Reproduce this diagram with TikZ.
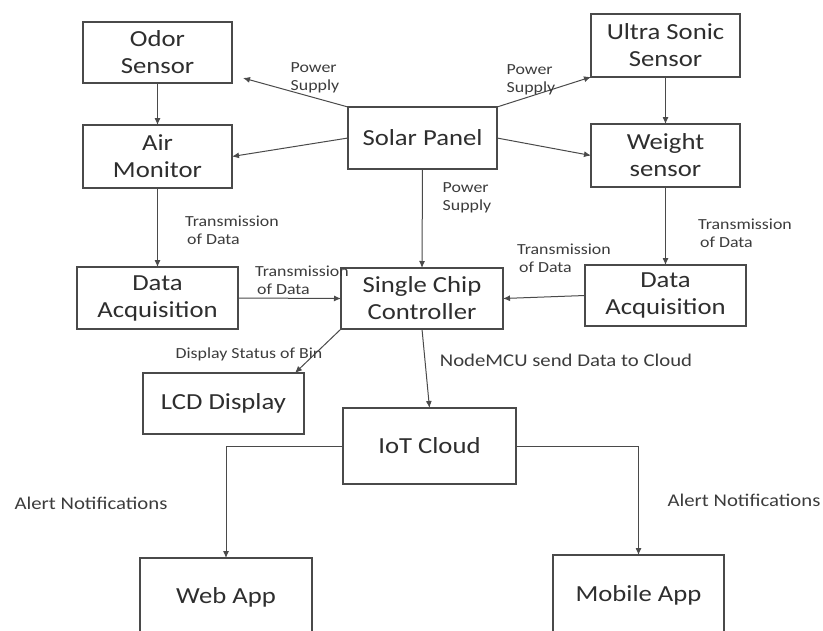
\documentclass[tikz,border=0pt]{standalone}
\usepackage{fontspec}
\setmainfont{Carlito}[FakeStretch=1.16]
\usetikzlibrary{arrows.meta,calc}
\definecolor{linec}{HTML}{4A4A4A}
\definecolor{textc}{HTML}{2E2E2E}
\definecolor{labc}{HTML}{3C3C3C}
\tikzset{
  box/.style={draw=linec,line width=1.1pt,fill=white,inner sep=0pt,outer sep=0pt,align=center,
    text=textc,font=\fontsize{23}{27}\selectfont},
  lab/.style={inner sep=0pt,align=left,text=labc,font=\fontsize{15.4}{18}\selectfont},
  biglab/.style={inner sep=0pt,align=left,text=labc,font=\fontsize{17.9}{21}\selectfont},
  arr/.style={draw=linec,line width=1pt,-{Latex[length=7pt,width=6pt]}}
}
\begin{document}
\begin{tikzpicture}[x=1pt,y=-1pt]
\useasboundingbox (0,0) rectangle (823,630);
\clip (0,0) rectangle (823,630);
% boxes
\node[box,minimum width=149pt,minimum height=61pt] (odor) at (157.5,52.5) {Odor\\Sensor};
\node[box,minimum width=149pt,minimum height=63pt] (air) at (157.5,156.5) {Air\\Monitor};
\node[box,minimum width=149pt,minimum height=62pt] (solar) at (422.5,138) {Solar Panel};
\node[box,minimum width=149pt,minimum height=63pt] (ultra) at (665.5,45.5) {Ultra Sonic\\Sensor};
\node[box,minimum width=149pt,minimum height=63pt] (weight) at (665.5,155.5) {Weight\\sensor};
\node[box,minimum width=161pt,minimum height=62pt] (daqL) at (157.5,298) {Data\\Acquisition};
\node[box,minimum width=162pt,minimum height=61pt] (chip) at (422,298.5) {Single Chip\\Controller};
\node[box,minimum width=161pt,minimum height=61pt] (daqR) at (665.5,295.5) {Data\\Acquisition};
\node[box,minimum width=161pt,minimum height=61pt] (lcd) at (223.5,403.5) {LCD Display};
\node[box,minimum width=173pt,minimum height=76pt] (iot) at (429.5,446) {IoT Cloud};
\node[box,minimum width=172pt,minimum height=78pt] (web) at (226,597) {Web App};
\node[box,minimum width=171pt,minimum height=80pt] (mobile) at (638.5,595) {Mobile App};
% free ends
\coordinate (odorTip) at (243,78);
\coordinate (lcdTip) at ($(lcd.north east)+(-9,0)$);
% connectors
\draw[arr] (solar.north west) -- (odorTip);
\draw[arr] (solar.west) -- (air.east);
\draw[arr] (solar.north east) -- (ultra.south west);
\draw[arr] (solar.east) -- (weight.west);
\draw[arr] (solar.south) -- (chip.north);
\draw[arr] (odor.south) -- (air.north);
\draw[arr] (ultra.south) -- (weight.north);
\draw[arr] (air.south) -- (daqL.north);
\draw[arr] (weight.south) -- (daqR.north);
\draw[arr] (daqL.east) -- (chip.west);
\draw[arr] (daqR.west) -- (chip.east);
\draw[arr] (chip.south west) -- (lcdTip);
\draw[arr] (chip.south) -- (iot.north);
\draw[arr] (iot.west) -| (web.north);
\draw[arr] (iot.east) -| (mobile.north);
% labels
\node[lab] (ps1) at (315,78) {Power\\Supply};
\node[lab] (ps2) at (531,80) {Power\\Supply};
\node[lab] (ps3) at (467,198) {Power\\Supply};
\node[lab] (t1) at (232,230) {Transmission\\\hspace{2pt}of Data};
\node[lab] (t2) at (745,233) {Transmission\\\hspace{2pt}of Data};
\node[lab] (t3) at (564,258) {Transmission\\\hspace{2pt}of Data};
\node[lab] (t4) at (302,280) {Transmission\\\hspace{2pt}of Data};
\node[lab] (dsb) at (249,354) {Display Status of Bin};
\node[biglab] (node) at (566,360) {NodeMCU send Data to Cloud};
\node[biglab] (al1) at (91,503) {Alert Notifications};
\node[biglab] (al2) at (744,500) {Alert Notifications};
\end{tikzpicture}
\end{document}
